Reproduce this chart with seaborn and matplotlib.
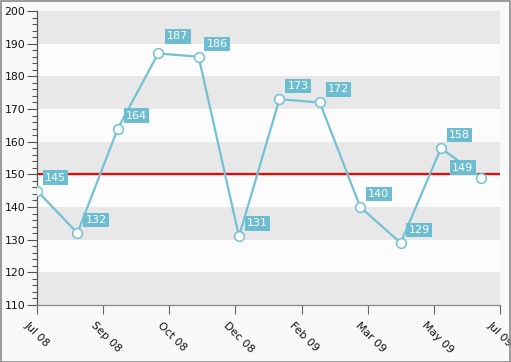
import numpy as np
import pandas as pd
import matplotlib
matplotlib.use("Agg")
import matplotlib.pyplot as plt
import matplotlib.transforms as mtransforms
from matplotlib.ticker import MultipleLocator, FixedLocator
import seaborn as sns

months = ["Jul 08", "Aug 08", "Sep 08", "Oct 08", "Nov 08", "Dec 08",
          "Jan 09", "Feb 09", "Mar 09", "Apr 09", "May 09", "Jun 09"]
values = [145, 132, 164, 187, 186, 131, 173, 172, 140, 129, 158, 149]
tick_labels = ["Jul 08", "Sep 08", "Oct 08", "Dec 08", "Feb 09", "Mar 09", "May 09", "Jul 09"]
target = 150

line_color = "#72C1D4"
box_color = "#6DBDD2"

sns.set_theme(style="white")
plt.rcParams['font.family'] = ['DejaVu Sans']

df = pd.DataFrame({"idx": np.arange(len(months)), "month": months, "value": values})

fig = plt.figure(figsize=(5.11, 3.62), dpi=100, facecolor="#F9F9F9")
ax = fig.add_axes([37 / 511, 1 - 305 / 362, 463 / 511, 294 / 362])
ax.set_facecolor("#FCFCFC")

x_max = 11.46
ax.set_xlim(0, x_max)
ax.set_ylim(110, 200)

# alternating bands
for lo in range(110, 200, 20):
    ax.axhspan(lo, lo + 10, color="#E8E8E8", lw=0, zorder=0)

ax.axhline(target, color="#FF0000", lw=1.6, zorder=2)

sns.lineplot(data=df, x="idx", y="value", ax=ax, color=line_color, lw=1.6,
             marker="o", markersize=7, markerfacecolor="white",
             markeredgecolor=line_color, markeredgewidth=1.1, zorder=3)

# value labels, box to the upper right of the point
pad = 0.2
for i, (x, v) in enumerate(zip(df["idx"], df["value"])):
    ox, oy, ha = 8, 8, "left"
    if v == max(values):
        ox, oy = 9, 12
    if i == len(values) - 1:
        ox, oy, ha = -8, 5, "right"
    ax.annotate(str(v), (x, v), xytext=(ox, oy), textcoords="offset pixels",
                ha=ha, va="bottom", color="white", fontsize=8, zorder=5,
                bbox=dict(boxstyle=f"square,pad={pad}", fc=box_color, ec="none"),
                annotation_clip=False)

ax.set_xlabel("")
ax.set_ylabel("")
ax.yaxis.set_major_locator(MultipleLocator(10))
ax.yaxis.set_minor_locator(MultipleLocator(2))
ax.xaxis.set_major_locator(FixedLocator(np.linspace(0, x_max, len(tick_labels))))
ax.set_xticklabels(tick_labels, rotation=-45, ha="left", va="top", rotation_mode="anchor")
ax.tick_params(axis="y", which="major", direction="out", length=7.5, width=0.8,
               color="#555555", labelsize=7.8, labelcolor="#111111", pad=1, left=True)
ax.tick_params(axis="y", which="minor", direction="out", length=3.8, width=0.8,
               color="#555555", left=True)
ax.tick_params(axis="x", which="major", direction="out", length=6.5, width=0.8,
               color="#666666", labelsize=7.8, labelcolor="#111111", pad=3, bottom=True)

# nudge the rotated date labels a little to the lower left
shift = mtransforms.ScaledTranslation(-7 / 100, -2 / 100, fig.dpi_scale_trans)
for lab in ax.get_xticklabels():
    lab.set_transform(lab.get_transform() + shift)

for side in ["top", "right"]:
    ax.spines[side].set_visible(False)
ax.spines["left"].set_color("#555555")
ax.spines["bottom"].set_color("#888888")
ax.spines["left"].set_linewidth(0.9)
ax.spines["bottom"].set_linewidth(0.9)

# outer frame
fig.patches.append(plt.Rectangle((0.001, 0.001), 0.997, 0.997, transform=fig.transFigure,
                                 fill=False, ec="#8A8A8A", lw=1.2))

fig.savefig("out.png", dpi=100, facecolor=fig.get_facecolor())
